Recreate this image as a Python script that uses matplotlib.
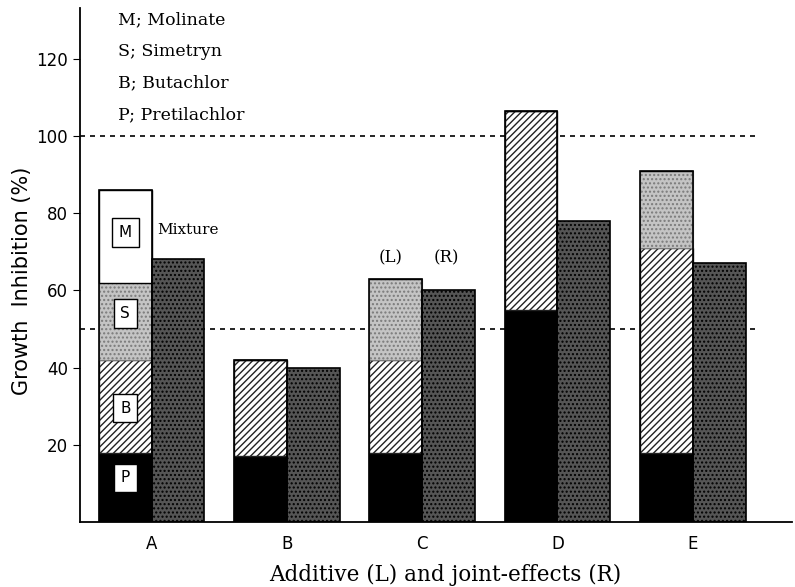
import numpy as np
import matplotlib
matplotlib.use("Agg")
import matplotlib.pyplot as plt

groups = ["A", "B", "C", "D", "E"]
# additive (L) stacked components
p_vals = [18, 17, 18, 55, 18]
b_vals = [24, 25, 24, 51.5, 53]
s_vals = [20, 0, 21, 0, 20]
m_vals = [24, 0, 0, 0, 0]
# joint effects (R)
joint = [68, 40, 60, 78, 67]

legend_lines = ["M; Molinate", "S; Simetryn", "B; Butachlor", "P; Pretilachlor"]

plt.rcParams["font.family"] = ["DejaVu Serif"]
plt.rcParams["hatch.linewidth"] = 1.0

fig = plt.figure(figsize=(7.95, 5.87), dpi=100)
ax = fig.add_axes([0.1006, 0.1107, 0.895, 0.875])

x = np.arange(len(groups))
w = 0.39
xl = x - w / 2
xr = x + w / 2

p = np.array(p_vals, float)
b = np.array(b_vals, float)
s = np.array(s_vals, float)
m = np.array(m_vals, float)

ax.bar(xl, p, w, color="black", edgecolor="black", linewidth=1, zorder=2)
ax.bar(xl, b, w, bottom=p, color="white", edgecolor="#222222", linewidth=1, hatch="/////", zorder=2)
ax.bar(xl, s, w, bottom=p + b, color="#c4c4c4", edgecolor="#7a7a7a", linewidth=0.8, hatch="....", zorder=2)
ax.bar(xl, m, w, bottom=p + b + s, color="white", edgecolor="black", linewidth=1, zorder=2)
tot = p + b + s + m
ax.bar(xl, tot, w, fill=False, edgecolor="black", linewidth=1.2, zorder=3)

ax.bar(xr, joint, w, color="#555555", edgecolor="black", linewidth=1.2, hatch="....", zorder=2)

# reference lines
ax.hlines([100, 50], -0.53, 4.5, colors="black", linestyles=(0, (3, 3)), linewidth=1.2, zorder=1)

# component labels in bar A
for lab, yy in zip(["M", "S", "B", "P"], [75, 54, 29.5, 11.4]):
    ax.text(xl[0], yy, lab, ha="center", va="center", fontsize=11, zorder=5,
            family="DejaVu Sans",
            bbox=dict(boxstyle="square,pad=0.45", fc="white", ec="black", lw=1))

ax.text(0.04, 75.5, "Mixture", ha="left", va="center", fontsize=11)
ax.text(1.77, 68.4, "(L)", ha="center", va="center", fontsize=12)
ax.text(2.18, 68.4, "(R)", ha="center", va="center", fontsize=12)

for i, t in enumerate(legend_lines):
    ax.text(-0.25, 130 - i * 8.2, t, ha="left", va="center", fontsize=12.5)

ax.set_xlim(-0.53, 4.73)
ax.set_ylim(0, 133)
ax.set_yticks([20, 40, 60, 80, 100, 120])
ax.set_xticks(x)
ax.set_xticklabels(groups, fontsize=12, family="DejaVu Sans")
for lab in ax.get_yticklabels():
    lab.set_family("DejaVu Sans")
ax.tick_params(axis="x", length=0, pad=9)
ax.tick_params(axis="y", direction="out", length=5, labelsize=12)
ax.spines["top"].set_visible(False)
ax.spines["right"].set_visible(False)
ax.spines["left"].set_linewidth(1.3)
ax.spines["bottom"].set_linewidth(1.3)

ax.set_ylabel("Growth  Inhibition (%)", fontsize=15, family="DejaVu Sans")
ax.yaxis.set_label_coords(-0.068, 0.47)
ax.set_xlabel("Additive (L) and joint-effects (R)", fontsize=15.5)
ax.xaxis.set_label_coords(0.513, -0.082)

fig.savefig("out.png", dpi=100)
